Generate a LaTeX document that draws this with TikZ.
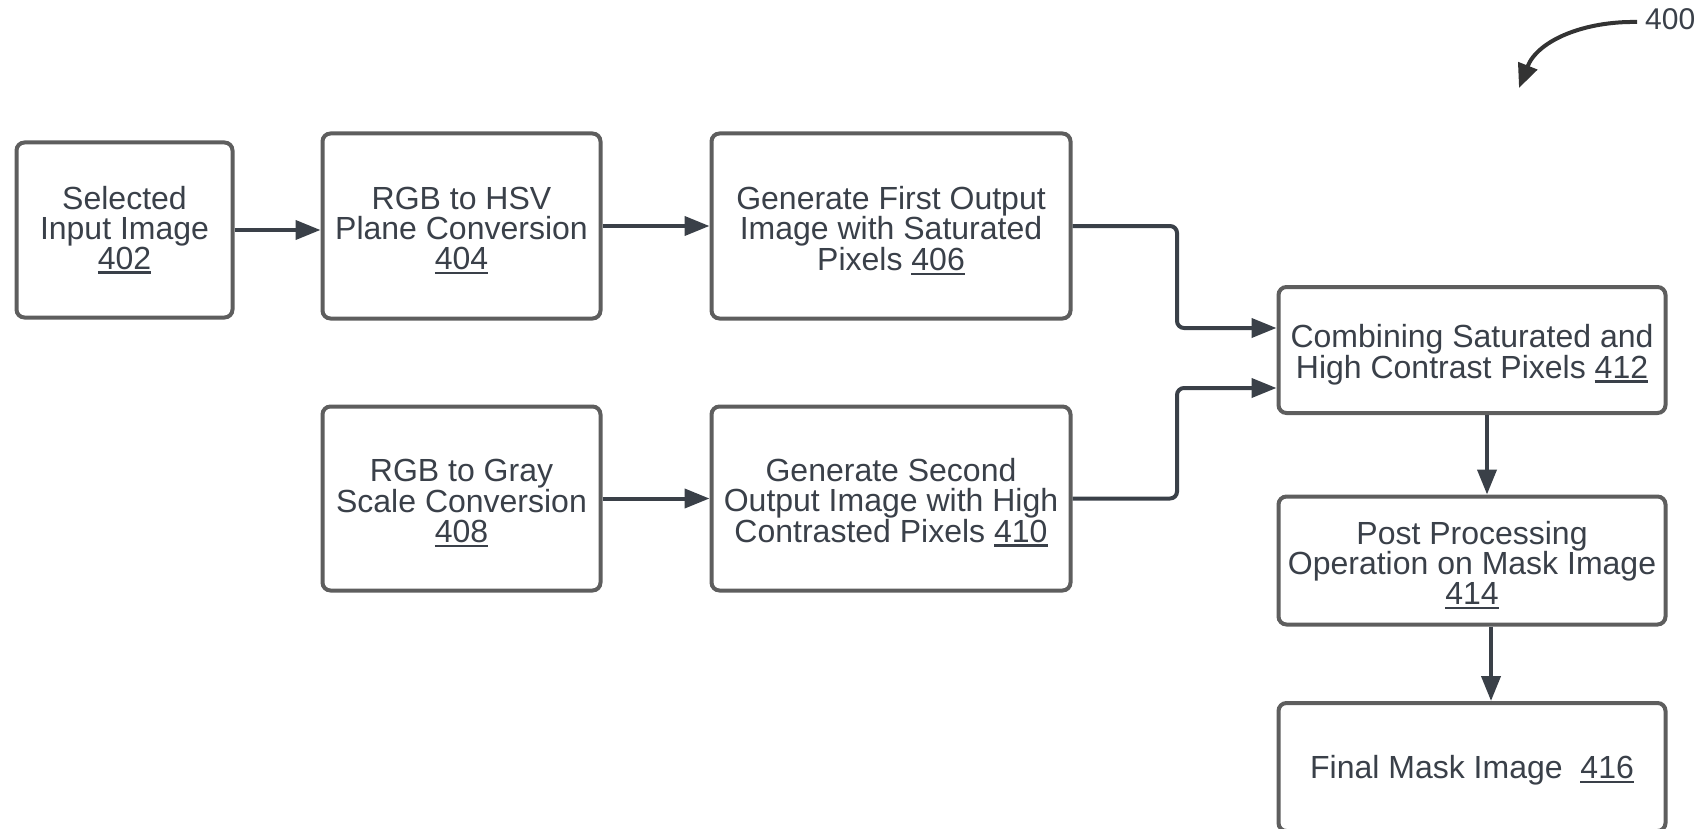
\documentclass[tikz,border=0pt]{standalone}
\usepackage{fontspec}
\setmainfont{Liberation Sans}
\usetikzlibrary{arrows.meta,calc}
\definecolor{boxline}{HTML}{5E5E5E}
\definecolor{ink}{HTML}{3A4049}
\definecolor{wire}{HTML}{3A4048}
\newcommand\refnum[1]{\setbox0\hbox{#1}\rlap{\color{ink}\rule[-4.5pt]{\wd0}{2.2pt}}\box0}
\tikzset{
  stepbox/.style={draw=boxline, line width=4pt, rounded corners=8pt, fill=white,
    inner sep=0pt},
  steptext/.style={text=ink, align=center, inner sep=0pt,
    font=\fontsize{32}{29.8}\selectfont},
  conn/.style={draw=wire, line width=4pt,
    -{Triangle[length=25pt,width=19pt]}},
}
\begin{document}
\begin{tikzpicture}[x=1pt,y=-1pt]
\useasboundingbox (0,0) rectangle (1707,829);
\clip (0,0) rectangle (1707,829);

% process boxes
\node[stepbox, minimum width=216pt, minimum height=175pt] (b402) at (124.5,230) {};
\node[stepbox, minimum width=278pt, minimum height=185pt] (b404) at (461.5,226) {};
\node[stepbox, minimum width=359pt, minimum height=185pt] (b406) at (891,226) {};
\node[stepbox, minimum width=278pt, minimum height=184pt] (b408) at (461.5,498.5) {};
\node[stepbox, minimum width=359pt, minimum height=184pt] (b410) at (891,498.5) {};
\node[stepbox, minimum width=387pt, minimum height=126pt] (b412) at (1472,350) {};
\node[stepbox, minimum width=387pt, minimum height=128pt] (b414) at (1472,560.5) {};
\node[stepbox, minimum width=387pt, minimum height=128pt] (b416) at (1472,767) {};

% box texts
\node[steptext] (t402) at ($(b402.center)+(0,0)$)
  {Selected\\Input Image\\\refnum{402}};
\node[steptext] (t404) at ($(b404.center)+(0,4.5)$)
  {RGB to HSV\\Plane Conversion\\\refnum{404}};
\node[steptext] (t406) at ($(b406.center)+(0,4.5)$)
  {Generate First Output\\Image with Saturated\\Pixels \refnum{406}};
\node[steptext] (t408) at ($(b408.center)+(0,4.5)$)
  {RGB to Gray\\Scale Conversion\\\refnum{408}};
\node[steptext] (t410) at ($(b410.center)+(0,4)$)
  {Generate Second\\Output Image with High\\Contrasted Pixels \refnum{410}};
\node[steptext] (t412) at ($(b412.center)+(0,4.5)$)
  {Combining Saturated and\\High Contrast Pixels \refnum{412}};
\node[steptext] (t414) at ($(b414.center)+(0,4.5)$)
  {Post Processing\\Operation on Mask Image\\\refnum{414}};
\node[steptext] (t416) at ($(b416.center)+(0,3)$)
  {Final Mask Image\ \ \refnum{416}};

% routing points
\coordinate (j1) at (1177,328);
\coordinate (j2) at (1177,388);
\coordinate (v1) at (1487,0);
\coordinate (v2) at (1491,0);

% connectors
\draw[conn] (b402.east) -- (b404.west |- b402.east);
\draw[conn] (b404.east) -- (b406.west);
\draw[conn] (b408.east) -- (b410.west);
\draw[conn, rounded corners=7pt] (b406.east) -| (j1) -- (b412.west |- j1);
\draw[conn, rounded corners=7pt] (b410.east) -| (j2) -- (b412.west |- j2);
\draw[conn] (b412.south -| v1) -- (b414.north -| v1);
\draw[conn] (b414.south -| v2) -- (b416.north -| v2);

% figure reference
\node[text=ink, inner sep=0pt, anchor=west, font=\fontsize{30}{30}\selectfont] (lbl) at (1645,19) {400};
\coordinate (c0) at (1637,22);
\coordinate (c1) at (1519,88);
\draw[draw=black!80, line width=4pt, -{Triangle[length=24pt,width=20pt]}]
  (c0) .. controls (1585,21) and (1538,40) .. (c1);
\end{tikzpicture}
\end{document}
